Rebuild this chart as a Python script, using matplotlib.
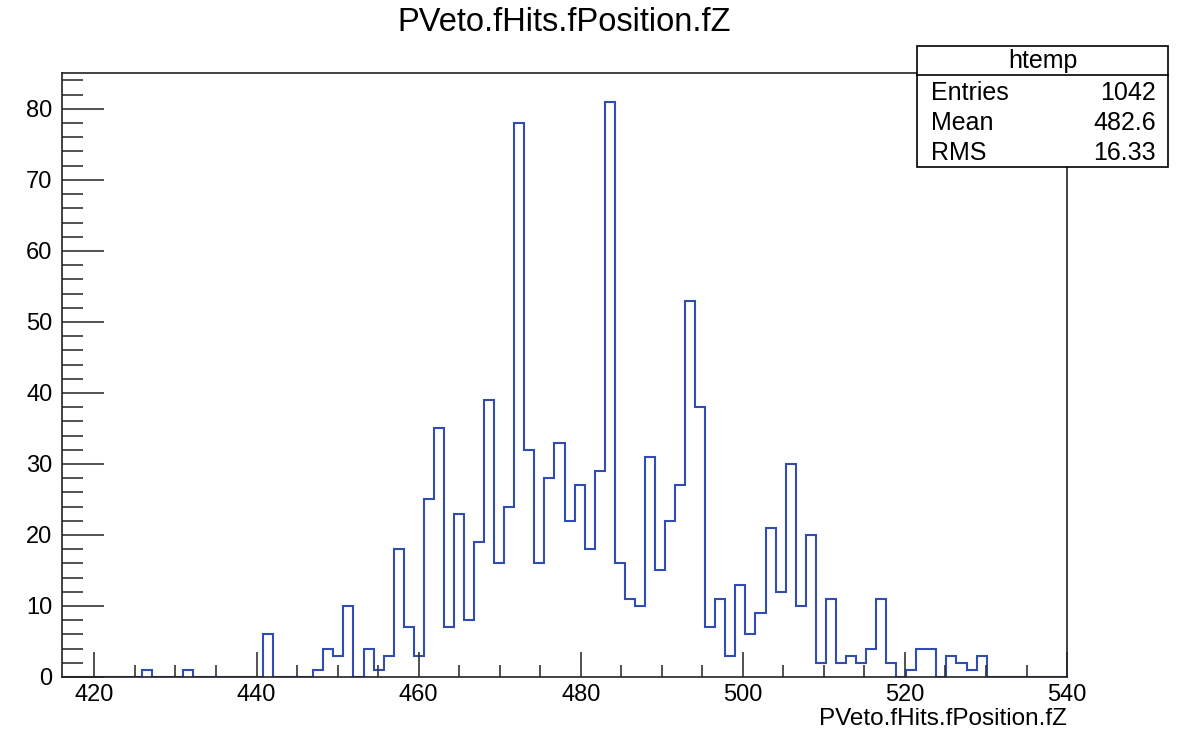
import numpy as np
import matplotlib
matplotlib.use("Agg")
import matplotlib.pyplot as plt
from matplotlib.patches import Rectangle
from matplotlib.lines import Line2D
from matplotlib.ticker import MultipleLocator

plt.rcParams['font.family'] = ['Liberation Sans', 'DejaVu Sans']

# htemp: 100 bins over [416, 540]
xmin, xmax, nbins = 416.0, 540.0, 100
counts = [0, 0, 0, 0, 0, 0, 0, 0, 1, 0,
          0, 0, 1, 0, 0, 0, 0, 0, 0, 0,
          6, 0, 0, 0, 0, 1, 4, 3, 10, 0,
          4, 1, 3, 18, 7, 3, 25, 35, 7, 23,
          8, 19, 39, 16, 24, 78, 32, 16, 28, 33,
          22, 27, 18, 29, 81, 16, 11, 10, 31, 15,
          22, 27, 53, 38, 7, 11, 3, 13, 6, 9,
          21, 12, 30, 10, 20, 2, 11, 2, 3, 2,
          4, 11, 2, 0, 1, 4, 4, 0, 3, 2,
          1, 3, 0, 0, 0, 0, 0, 0, 0, 0]

title = "PVeto.fHits.fPosition.fZ"
stats_name = "htemp"
stats_labels = ["Entries", "Mean", "RMS"]
stats_values = ["1042", "482.6", "16.33"]

edges = np.linspace(xmin, xmax, nbins + 1)

fig = plt.figure(figsize=(11.81, 7.34), dpi=100)
ax = fig.add_axes([0.0525, 0.0777, 0.851, 0.8228])

ax.stairs(counts, edges, color='#2f4db3', lw=1.5, baseline=0)

ax.set_xlim(xmin, xmax)
ax.set_ylim(0, 1.05 * max(counts))

ax.xaxis.set_major_locator(MultipleLocator(20))
ax.xaxis.set_minor_locator(MultipleLocator(5))
ax.yaxis.set_major_locator(MultipleLocator(10))
ax.yaxis.set_minor_locator(MultipleLocator(2))

ax.tick_params(axis='both', which='both', direction='in', top=False, right=False,
               labelsize=17, color='#333333')
ax.tick_params(axis='x', which='major', length=18, width=1.2, pad=5)
ax.tick_params(axis='x', which='minor', length=9, width=1.2)
ax.tick_params(axis='y', which='major', length=30, width=1.2, pad=7)
ax.tick_params(axis='y', which='minor', length=15, width=1.2)
for s in ax.spines.values():
    s.set_linewidth(1.2)
    s.set_color('#222222')

fig.text(0.478, 0.970, title, ha='center', va='center', fontsize=23.5)
fig.text(0.9035, 0.021, title, ha='right', va='center', fontsize=17.5)

# stats box
bx0, bx1 = 917 / 1181, 1168 / 1181
by0, by1 = 1 - 167 / 734, 1 - 46 / 734
ysep = 1 - 75 / 734
box = Rectangle((bx0, by0), bx1 - bx0, by1 - by0, transform=fig.transFigure,
                facecolor='white', edgecolor='black', lw=1.2, zorder=5)
fig.add_artist(box)
fig.add_artist(Line2D([bx0, bx1], [ysep, ysep], transform=fig.transFigure,
                      color='black', lw=1.2, zorder=6))
fig.text((bx0 + bx1) / 2, 1 - 61 / 734, stats_name, ha='center', va='center',
         fontsize=18, zorder=7)
row_y = [93, 123, 153]
for lab, val, ry in zip(stats_labels, stats_values, row_y):
    fig.text(931 / 1181, 1 - ry / 734, lab, ha='left', va='center', fontsize=18, zorder=7)
    fig.text(1156 / 1181, 1 - ry / 734, val, ha='right', va='center', fontsize=18, zorder=7)

fig.savefig("out.png", dpi=100)
